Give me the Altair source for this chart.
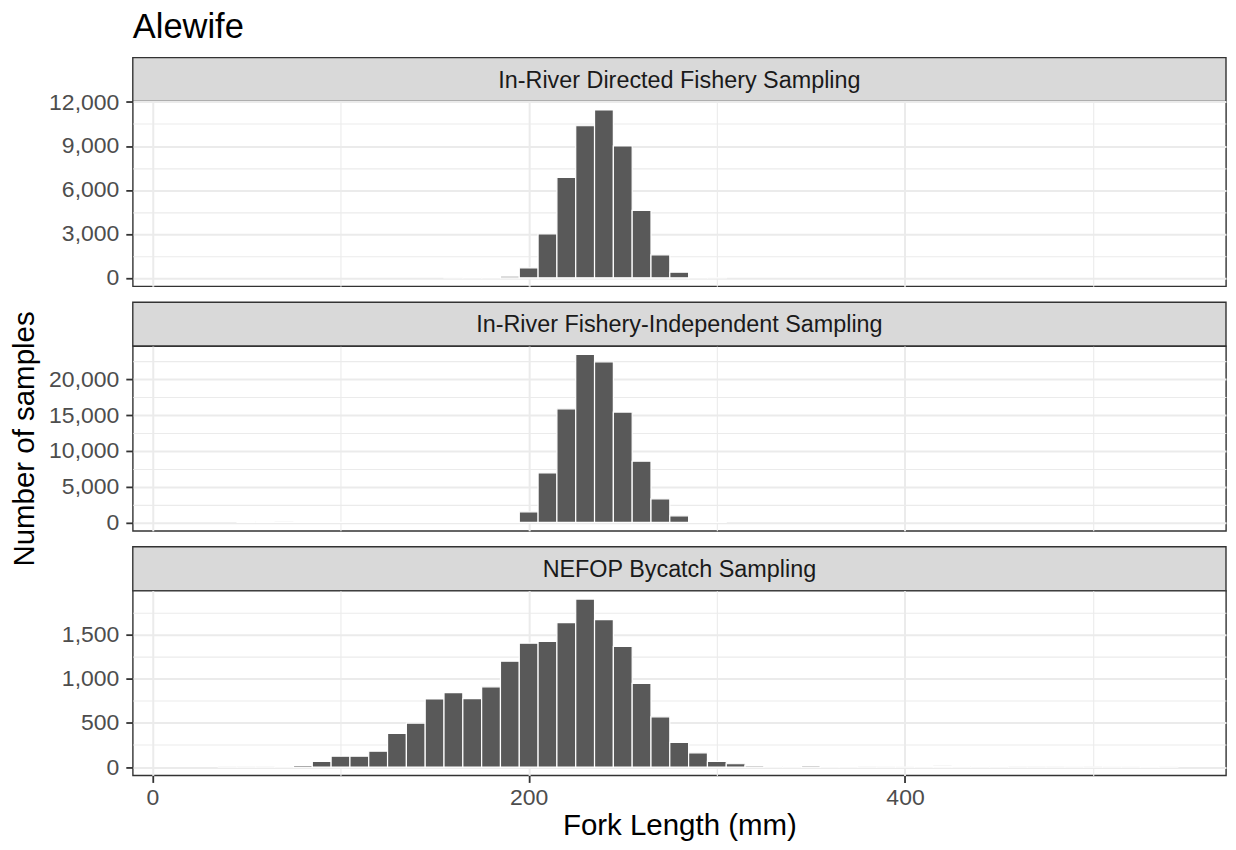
import altair as alt
import pandas as pd

chart_title = "Alewife"
panel_names = [
    "In-River Directed Fishery Sampling",
    "In-River Fishery-Independent Sampling",
    "NEFOP Bycatch Sampling",
]
x_title = "Fork Length (mm)"
y_title = "Number of samples"

# bin centres (mm) and counts, 10 mm bins
top_centers = [160, 170, 180, 190, 200, 210, 220, 230, 240, 250, 260, 270, 280, 290, 300]
top_counts = [5, 15, 45, 113, 680, 3000, 6850, 10380, 11460, 9000, 4600, 1570, 380, 50, 5]

mid_centers = [50, 60, 70, 80, 90, 100, 110, 120, 130, 140, 150, 160, 170, 180, 190,
               200, 210, 220, 230, 240, 250, 260, 270, 280, 290, 300]
mid_counts = [30, 150, 80, 40, 30, 20, 15, 10, 10, 10, 10, 10, 15, 40, 190,
              1490, 6930, 15900, 23490, 22470, 15440, 8560, 3300, 930, 190, 20]

bot_centers = [40, 50, 60, 70, 80, 90, 100, 110, 120, 130, 140, 150, 160, 170, 180, 190,
               200, 210, 220, 230, 240, 250, 260, 270, 280, 290, 300, 310, 320, 330, 340,
               350, 360, 370, 380, 390, 400, 410, 420, 430, 440, 450, 460, 470, 480, 490,
               500, 510, 520, 530, 540]
bot_counts = [2, 3, 2, 10, 18, 63, 122, 122, 179, 381, 497, 770, 841, 774, 908, 1197,
              1402, 1421, 1634, 1900, 1668, 1365, 946, 568, 280, 161, 64, 37, 15, 12, 12,
              17, 10, 8, 3, 4, 1, 8, 14, 12, 8, 8, 3, 2, 2, 1,
              2, 1, 1, 1, 1]

x_major = [0, 200, 400]
x_minor = [100, 300, 500]
x_domain = [-10.4, 570.6]

top_y_major = [0, 3000, 6000, 9000, 12000]
top_y_minor = [1500, 4500, 7500, 10500]
mid_y_major = [0, 5000, 10000, 15000, 20000]
mid_y_minor = [2500, 7500, 12500, 17500, 22500]
bot_y_major = [0, 500, 1000, 1500]
bot_y_minor = [250, 750, 1250, 1750]

FONT = "Liberation Sans"
W = 1095
PH = 185
SH = 44
GAP = 16
BAR_FILL = "#595959"
GRID = "#EBEBEB"
DARK = "#333333"
LABEL_FS = 23
STRIP_FS = 23.4
AXTITLE_FS = 29.5


def make_df(centers, counts):
    return pd.DataFrame({
        "start": [c - 5 for c in centers],
        "end": [c + 5 for c in centers],
        "count": counts,
    })


def strip(name, gap):
    df = pd.DataFrame({"label": [name]})
    h = SH + gap
    rect = alt.Chart(df).mark_rect(fill="#D9D9D9", stroke=DARK, strokeWidth=1.4).encode(
        x=alt.value(0), x2=alt.value(W), y=alt.value(gap), y2=alt.value(h)
    )
    txt = alt.Chart(df).mark_text(font=FONT, fontSize=STRIP_FS, color="#1A1A1A", baseline="middle").encode(
        text="label:N", x=alt.value(W / 2), y=alt.value(gap + SH / 2 + 1)
    )
    return alt.layer(rect, txt).properties(
        width=W, height=h, view=alt.ViewBackground(stroke="transparent")
    )


def panel(centers, counts, y_major, y_minor, bottom, ytitle):
    df = make_df(centers, counts)
    ymax = max(counts)
    yscale = alt.Scale(domain=[-0.05 * ymax, 1.05 * ymax], nice=False, zero=False)
    xscale = alt.Scale(domain=x_domain, nice=False, zero=False)

    minor = alt.Chart(df).mark_bar(opacity=0).encode(
        x=alt.X("start:Q", scale=xscale,
                axis=alt.Axis(values=x_minor, orient="top", grid=True, gridColor=GRID,
                              gridWidth=1.1, labels=False, ticks=False, domain=False, title=None)),
        x2="end:Q",
        y=alt.Y("count:Q", scale=yscale,
                axis=alt.Axis(values=y_minor, orient="right", grid=True, gridColor=GRID,
                              gridWidth=1.1, labels=False, ticks=False, domain=False, title=None)),
        y2=alt.datum(0),
    )

    if bottom:
        xaxis = alt.Axis(values=x_major, orient="bottom", grid=True, gridColor=GRID, gridWidth=2,
                         domain=False, ticks=True, tickColor=DARK, tickWidth=1.8, tickSize=7,
                         labels=True, labelFont=FONT, labelFontSize=LABEL_FS, labelColor="#4D4D4D",
                         labelPadding=4, format="d",
                         title=x_title, titleFont=FONT, titleFontSize=AXTITLE_FS, titleFontWeight="normal",
                         titleColor="black", titlePadding=2)
    else:
        xaxis = alt.Axis(values=x_major, orient="bottom", grid=True, gridColor=GRID, gridWidth=2,
                         domain=False, ticks=False, labels=False, title=None)

    yaxis_kwargs = dict(values=y_major, orient="left", grid=True, gridColor=GRID, gridWidth=2,
                        domain=False, ticks=True, tickColor=DARK, tickWidth=1.8, tickSize=7,
                        labelFont=FONT, labelFontSize=LABEL_FS, labelColor="#4D4D4D", labelPadding=7,
                        format=",.0f")
    if ytitle:
        yaxis = alt.Axis(title=y_title, titleFont=FONT, titleFontSize=AXTITLE_FS, titleFontWeight="normal",
                         titleColor="black", titlePadding=9, **yaxis_kwargs)
    else:
        yaxis = alt.Axis(title=None, **yaxis_kwargs)

    bars = alt.Chart(df).mark_bar(fill=BAR_FILL, stroke="white", strokeWidth=1.2).encode(
        x=alt.X("start:Q", scale=xscale, axis=xaxis),
        x2="end:Q",
        y=alt.Y("count:Q", scale=yscale, axis=yaxis),
        y2=alt.datum(0),
    )
    return alt.layer(minor, bars).resolve_axis(x="independent", y="independent").properties(
        width=W, height=PH, view=alt.ViewBackground(stroke=DARK, strokeWidth=1.4, fill="white")
    )


chart = alt.vconcat(
    strip(panel_names[0], 0),
    panel(top_centers, top_counts, top_y_major, top_y_minor, False, False),
    strip(panel_names[1], GAP),
    panel(mid_centers, mid_counts, mid_y_major, mid_y_minor, False, True),
    strip(panel_names[2], GAP),
    panel(bot_centers, bot_counts, bot_y_major, bot_y_minor, True, False),
    spacing=0,
    bounds="flush",
).properties(
    title=alt.TitleParams(chart_title, anchor="start", frame="group", font=FONT, fontSize=34.5,
                          fontWeight="normal", color="black", offset=11),
    padding={"left": 0, "top": 1, "right": 0, "bottom": 0},
    background="white",
).configure_view(stroke=DARK)

chart.save("out.html", embed_options={"renderer": "svg", "actions": False})
